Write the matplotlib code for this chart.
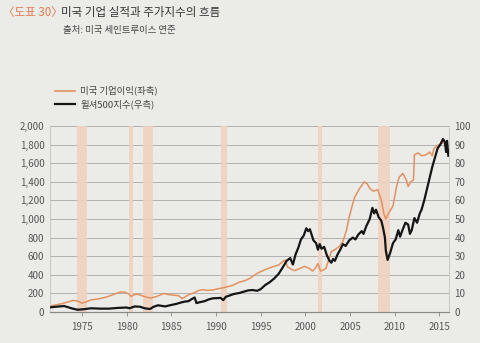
import matplotlib.pyplot as plt

plt.rcParams['font.family'] = ['Noto Sans CJK KR', 'DejaVu Sans']

# US corporate profits (left axis)
profit_years = [1971.4, 1972.0, 1972.8, 1973.5, 1974.0, 1974.5, 1975.0, 1975.5, 1976.0, 1976.8,
                1977.5, 1978.0, 1978.7, 1979.3, 1979.8, 1980.2, 1980.5, 1980.8, 1981.2, 1981.7,
                1982.2, 1982.7, 1983.3, 1983.8, 1984.2, 1984.6, 1985.2, 1985.8, 1986.2, 1986.5,
                1986.9, 1987.5, 1988.0, 1988.5, 1989.0, 1989.6, 1990.2, 1990.7, 1991.2, 1991.8,
                1992.6, 1993.3, 1993.8, 1994.5, 1995.0, 1995.6, 1996.3, 1997.0, 1997.5, 1997.7,
                1998.0, 1998.5, 1998.8, 1999.3, 1999.9, 2000.4, 2000.8, 2001.1, 2001.4, 2001.7,
                2002.0, 2002.3, 2002.6, 2002.9, 2003.3, 2003.8, 2004.2, 2004.6, 2004.9, 2005.2,
                2005.5, 2006.0, 2006.6, 2006.9, 2007.2, 2007.6, 2008.1, 2008.5, 2008.8, 2009.0,
                2009.3, 2009.8, 2010.2, 2010.5, 2010.9, 2011.3, 2011.5, 2011.8, 2012.1, 2012.2,
                2012.6, 2013.0, 2013.5, 2013.9, 2014.2, 2014.4, 2014.8, 2015.2, 2015.6, 2015.9]
profits = [65, 75, 90, 110, 125, 118, 95, 110, 130, 140,
           155, 170, 195, 215, 212, 195, 168, 185, 192, 175,
           160, 150, 165, 185, 200, 188, 182, 175, 145, 160,
           185, 205, 230, 240, 232, 236, 250, 258, 270, 285,
           320, 340, 362, 410, 434, 460, 485, 505, 545, 560,
           485, 455, 445, 465, 490, 470, 440, 470, 520, 440,
           450, 470, 560, 650, 670, 705, 760, 880, 1020, 1130,
           1230, 1320, 1400, 1380, 1330, 1300, 1315, 1200, 1050, 1000,
           1060, 1140, 1350, 1450, 1490, 1420, 1350, 1400, 1420, 1690,
           1710, 1680, 1690, 1720, 1680, 1760, 1790, 1810, 1830, 1790]

# Wilshire index (right axis)
index_years = [1971.4, 1972.5, 1973.0, 1973.8, 1974.5, 1975.2, 1976.0, 1977.0, 1978.0, 1979.0,
               1980.0, 1980.3, 1980.9, 1981.5, 1982.0, 1982.6, 1983.0, 1983.5, 1984.3, 1985.0,
               1985.5, 1986.0, 1986.5, 1986.9, 1987.3, 1987.6, 1987.8, 1988.2, 1988.7, 1989.2,
               1989.7, 1990.0, 1990.5, 1990.8, 1991.1, 1991.6, 1992.0, 1992.6, 1993.0, 1993.6,
               1994.1, 1994.6, 1995.0, 1995.5, 1996.0, 1996.5, 1997.0, 1997.4, 1997.9, 1998.3,
               1998.6, 1998.9, 1999.2, 1999.5, 1999.8, 2000.1, 2000.3, 2000.5, 2000.7, 2000.9,
               2001.2, 2001.4, 2001.6, 2001.8, 2002.1, 2002.4, 2002.7, 2002.9, 2003.1, 2003.3,
               2003.6, 2003.9, 2004.2, 2004.5, 2004.9, 2005.3, 2005.6, 2005.9, 2006.3, 2006.5,
               2006.8, 2007.2, 2007.5, 2007.7, 2007.9, 2008.2, 2008.5, 2008.7, 2008.9, 2009.0,
               2009.2, 2009.5, 2009.8, 2010.1, 2010.4, 2010.6, 2010.9, 2011.2, 2011.5, 2011.7,
               2011.9, 2012.2, 2012.5, 2012.8, 2013.0, 2013.3, 2013.6, 2013.9, 2014.2, 2014.5,
               2014.8, 2015.1, 2015.4, 2015.6, 2015.75, 2015.85, 2016.0]
index_vals = [2.5, 3.0, 3.2, 2.0, 1.2, 1.5, 2.0, 1.8, 1.8, 2.2,
              2.4, 2.0, 3.0, 2.8, 2.0, 1.6, 2.8, 3.6, 3.0, 3.8,
              4.3, 5.0, 5.6, 5.8, 7.0, 7.8, 4.8, 5.3, 5.8, 6.8,
              7.4, 7.4, 7.6, 6.4, 8.2, 9.0, 9.7, 10.2, 10.8, 11.6,
              11.8, 11.4, 12.3, 14.5, 16.0, 18.0, 20.5, 23.5, 27.5, 29.0,
              25.5, 31.0, 34.5, 39.0, 41.0, 45.0, 43.5, 44.5, 41.5, 38.5,
              37.0, 33.5, 36.5, 34.0, 35.0, 30.5, 27.5, 26.5, 28.5, 27.5,
              31.0, 33.5, 36.5, 35.5, 38.5, 40.0, 39.0, 41.5, 43.5, 42.0,
              46.0, 50.0, 56.0, 53.0, 55.0, 51.0, 49.0, 45.0, 40.0, 33.0,
              28.0, 32.0, 37.0, 39.0, 44.0, 40.5, 44.5, 48.0, 47.0, 42.0,
              44.0, 50.5, 48.0, 53.0, 55.0, 60.0, 66.0, 72.0, 78.0, 83.0,
              88.0, 90.0, 93.0, 91.5, 86.0, 92.0, 84.0]

# recession periods
recessions = [(1974.4, 1975.6), (1980.25, 1980.7), (1981.8, 1982.9),
              (1990.6, 1991.2), (2001.4, 2001.9), (2008.1, 2009.5)]

bg = '#ebebe8'
orange = '#e3915f'
tick_color = '#555555'

fig = plt.figure(figsize=(4.8, 3.43), dpi=100, facecolor=bg)
ax = fig.add_axes([0.104, 0.0904, 0.831, 0.5423])
ax.set_facecolor(bg)
ax2 = ax.twinx()

for start, end in recessions:
    ax.axvspan(start, end, color='#f0d2bf', alpha=0.9, lw=0, zorder=1)

ax.plot(profit_years, profits, color=orange, lw=1.1, zorder=3)
ax2.plot(index_years, index_vals, color='#151515', lw=1.6, zorder=4)

ax.set_xlim(1971.4, 2016.05)
ax.set_ylim(0, 2000)
ax2.set_ylim(0, 100)
ax.set_yticks(range(0, 2001, 200))
ax.set_yticklabels([f'{v:,}' for v in range(0, 2001, 200)])
ax2.set_yticks(range(0, 101, 10))
ax.set_xticks(range(1975, 2016, 5))

ax.grid(axis='y', color='#a8a8a8', lw=0.6)
ax.set_axisbelow(True)
ax.spines['top'].set_visible(False)
ax2.spines['top'].set_visible(False)
for a in (ax, ax2):
    a.spines['left'].set_color('#c8c8c8')
    a.spines['right'].set_color('#c8c8c8')
    a.spines['left'].set_linewidth(0.6)
    a.spines['right'].set_linewidth(0.6)
    a.spines['bottom'].set_color('#888888')
    a.spines['bottom'].set_linewidth(0.8)

ax.tick_params(axis='x', length=3, width=0.6, color='#888888', pad=4,
               labelsize=7, labelcolor=tick_color)
ax.tick_params(axis='y', length=0, pad=4, labelsize=7, labelcolor=tick_color)
ax2.tick_params(axis='y', length=0, pad=4, labelsize=7, labelcolor=tick_color)

# title and source
fig.text(0.006, 0.963, '〈도표 30〉', color='#e07a50', fontsize=8.3, va='center')
fig.text(0.128, 0.963, '미국 기업 실적과 주가지수의 흐름', color='#333333', fontsize=8.3, va='center')
fig.text(0.131, 0.912, '출처: 미국 세인트루이스 연준', color='#444444', fontsize=6.8, va='center')

# legend
fig.lines.append(plt.Line2D([0.115, 0.156], [0.736, 0.736], color=orange, lw=1.2,
                            transform=fig.transFigure))
fig.lines.append(plt.Line2D([0.115, 0.156], [0.696, 0.696], color='#151515', lw=1.6,
                            transform=fig.transFigure))
fig.text(0.167, 0.736, '미국 기업이익(좌축)', color='#444444', fontsize=6.8, va='center')
fig.text(0.167, 0.696, '윌셔500지수(우측)', color='#444444', fontsize=6.8, va='center')

fig.savefig('out.png', dpi=100, facecolor=bg)
